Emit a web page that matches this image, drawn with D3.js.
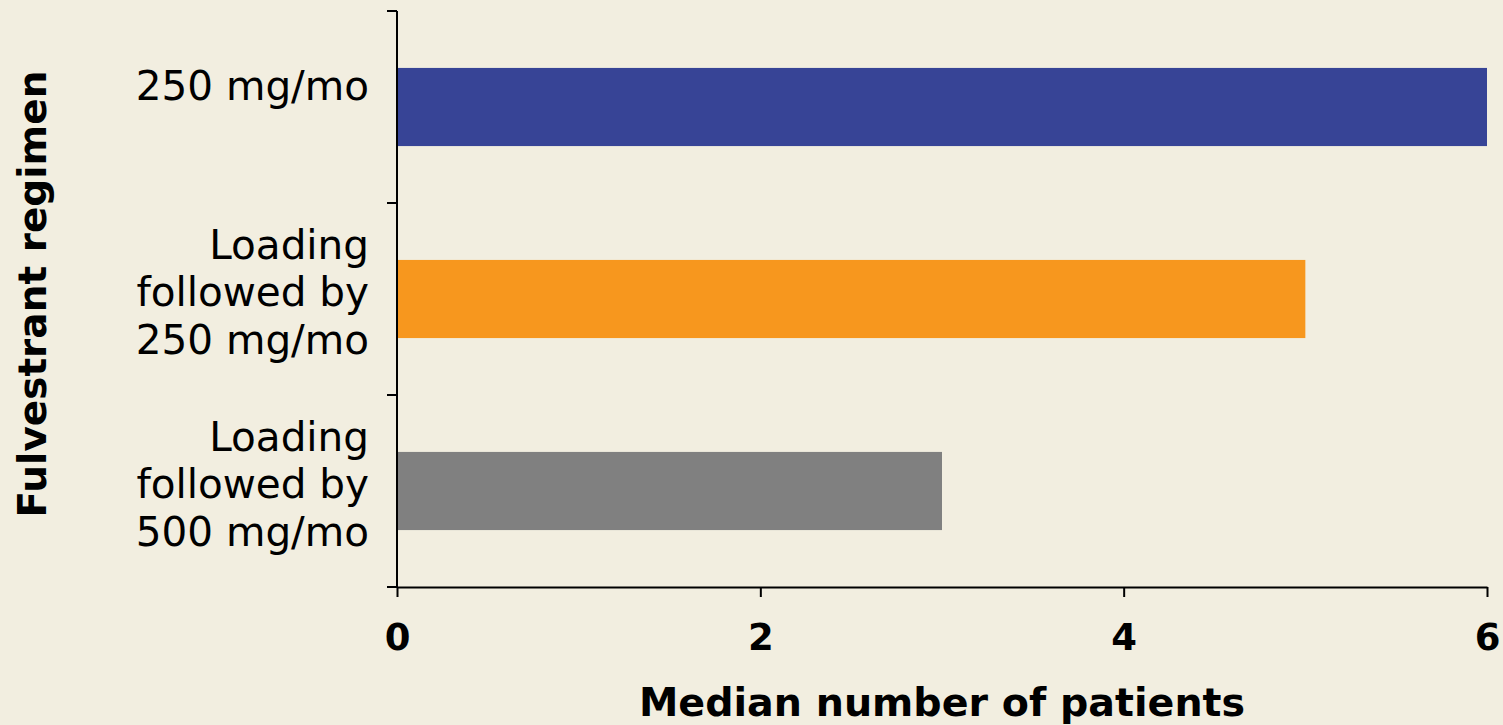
<!DOCTYPE html>
<html>
<head>
<meta charset="utf-8">
<script src="https://cdn.jsdelivr.net/npm/d3@7"></script>
<style>
  html, body { margin: 0; padding: 0; background: #f2eee0; }
  svg { display: block; font-family: "DejaVu Sans", Verdana, sans-serif; }
</style>
</head>
<body>
<div id="chart"></div>
<script>
// data
let categories = [
    ["250 mg/mo"],
    ["Loading", "followed by", "250 mg/mo"],
    ["Loading", "followed by", "500 mg/mo"]
];
let values = [6, 5, 3];
let barColors = ["#374496", "#f7971e", "#808080"];
let xTicks = [0, 2, 4, 6];

let width = 1503, height = 725;
let mLeft = 397, mRight = 1487, mTop = 11, mBottom = 587;

let svg = d3.select('#chart').append('svg')
    .attr('width', width).attr('height', height);

svg.append('rect').attr('width', width).attr('height', height).attr('fill', '#f2eee0');

let x = d3.scaleLinear().domain([0, 6]).range([mLeft, mRight]);
let y = d3.scaleBand().domain(d3.range(categories.length)).range([mTop, mBottom]).padding(0);
let barH = y.bandwidth() * 0.407;

// bars
svg.append('g').selectAll('rect')
    .data(values)
    .enter().append('rect')
    .attr('x', x(0))
    .attr('y', (d, i) => y(i) + (y.bandwidth() - barH) / 2)
    .attr('width', d => x(d) - x(0))
    .attr('height', barH)
    .attr('fill', (d, i) => barColors[i]);

// x axis
let xAxis = svg.append('g')
    .attr('transform', 'translate(0,' + mBottom + ')')
    .call(d3.axisBottom(x).tickValues(xTicks).tickSize(10).tickSizeOuter(0).tickFormat(d3.format('d')));
xAxis.select('.domain').attr('stroke', '#000').attr('stroke-width', 2);
xAxis.selectAll('.tick line').attr('stroke', '#000').attr('stroke-width', 2);
xAxis.selectAll('.tick text')
    .attr('y', 63).attr('dy', 0)
    .attr('font-size', 37).attr('font-weight', 'bold')
    .attr('font-family', '"DejaVu Sans", Verdana, sans-serif')
    .attr('fill', '#000');

// y axis line and ticks on band edges
let yEdges = categories.map((c, i) => y(i)).concat([mBottom]);
svg.append('line')
    .attr('x1', mLeft).attr('x2', mLeft)
    .attr('y1', mTop).attr('y2', mBottom)
    .attr('stroke', '#000').attr('stroke-width', 2);
svg.append('g').selectAll('line')
    .data(yEdges)
    .enter().append('line')
    .attr('x1', mLeft - 10).attr('x2', mLeft)
    .attr('y1', d => d).attr('y2', d => d)
    .attr('stroke', '#000').attr('stroke-width', 2);

// category labels
let lineH = 47.5;
let labels = svg.append('g').selectAll('text')
    .data(categories)
    .enter().append('text')
    .attr('text-anchor', 'end')
    .attr('font-size', 40.5)
    .attr('fill', '#000');
labels.each(function(lines, i) {
    let c = y(i) + y.bandwidth() / 2;
    let shift = lines.length === 1 ? 21 : 7;
    let first = c + 14 - (lines.length - 1) * lineH / 2 - shift;
    d3.select(this).selectAll('tspan')
        .data(lines)
        .enter().append('tspan')
        .attr('x', 369)
        .attr('y', (d, j) => first + j * lineH)
        .text(d => d);
});

// axis titles
svg.append('text')
    .attr('x', (mLeft + mRight) / 2).attr('y', 716)
    .attr('text-anchor', 'middle')
    .attr('font-size', 39.6).attr('font-weight', 'bold')
    .text('Median number of patients');

svg.append('text')
    .attr('transform', 'translate(46,' + 294 + ') rotate(-90)')
    .attr('text-anchor', 'middle')
    .attr('font-size', 39).attr('font-weight', 'bold')
    .text('Fulvestrant regimen');
</script>
</body>
</html>
